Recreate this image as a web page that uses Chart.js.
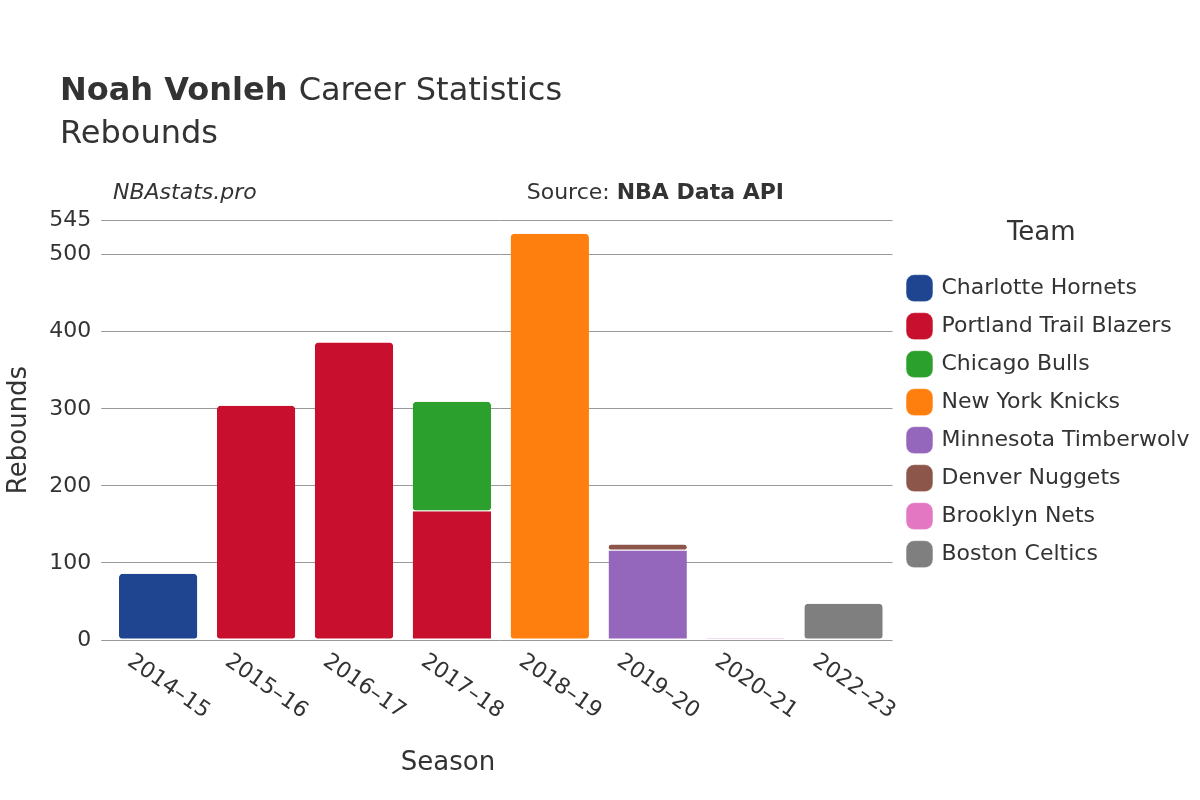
<!DOCTYPE html>
<html><head><meta charset="utf-8">
<script src="https://cdn.jsdelivr.net/npm/chart.js@4/dist/chart.umd.min.js"></script>
<style>body{margin:0;background:#fff}</style></head>
<body><canvas id="c" width="1200" height="800"></canvas>
<script>
const seasons=["2014–15","2015–16","2016–17","2017–18","2018–19","2019–20","2020–21","2022–23"];
const teams=["Charlotte Hornets","Portland Trail Blazers","Chicago Bulls","New York Knicks","Minnesota Timberwolves","Denver Nuggets","Brooklyn Nets","Boston Celtics"];
const colors=["#1f4590","#c8102e","#2ca02c","#ff7f0e","#9467bd","#8c564b","#e377c2","#7f7f7f"];
const hornets=[86,null,null,null,null,null,null,null];
const blazers=[null,304,386,167,null,null,null,null];
const bulls=[null,null,null,142,null,null,null,null];
const knicks=[null,null,null,null,527,null,null,null];
const wolves=[null,null,null,null,null,116,null,null];
const nuggets=[null,null,null,null,null,8,null,null];
const nets=[null,null,null,null,null,null,2,null];
const celtics=[null,null,null,null,null,null,null,47];
const series=[hornets,blazers,bulls,knicks,wolves,nuggets,nets,celtics];
const F="'DejaVu Sans', sans-serif";
const texts={id:'texts',afterDraw(ch){const x=ch.ctx;x.save();x.fillStyle='#333';x.textBaseline='alphabetic';x.textAlign='left';
x.font="bold 32px "+F;x.fillText("Noah Vonleh",60,100);const w=x.measureText("Noah Vonleh ").width;
x.font="32px "+F;x.fillText("Career Statistics",60+w,100);x.fillText("Rebounds",60,143);
x.font="italic 22px "+F;x.fillText("NBAstats.pro",113,199);
x.textAlign='right';x.font="bold 22px "+F;x.fillText("NBA Data API",784,199);const bw=x.measureText("NBA Data API").width;
x.font="22px "+F;x.fillText("Source: ",784-bw,199);
const xs=ch.scales.x;x.font="22px "+F;x.textAlign='left';
seasons.forEach((s,i)=>{const px=xs.getPixelForTick(i);x.save();x.translate(px-32,664);x.rotate(35*Math.PI/180);x.fillText(s,0,0);x.restore();});
x.font="26px "+F;x.textAlign='center';x.fillText("Season",448,770);
x.restore();}};
new Chart(document.getElementById('c'),{type:'bar',
data:{labels:seasons,datasets:series.map((d,i)=>({label:teams[i],data:d,backgroundColor:colors[i],borderColor:'#fff',borderWidth:{top:0,bottom:1,left:0,right:0},borderRadius:4,borderSkipped:false,categoryPercentage:1,barPercentage:0.8}))},
options:{responsive:false,animation:false,
layout:{padding:{top:220,left:0,right:10,bottom:0}},
plugins:{legend:{position:'right',align:'start',title:{display:true,text:'Team',color:'#333',font:{family:F,size:26},padding:{top:0,bottom:10}},
labels:{color:'#333',font:{family:F,size:22},boxWidth:22,boxHeight:22,padding:16,usePointStyle:true,pointStyle:'rectRounded'}},tooltip:{enabled:false}},
scales:{x:{stacked:true,grid:{display:false},border:{display:false},ticks:{display:false},afterFit(s){s.height=160;}},
y:{stacked:true,min:0,max:545,grid:{color:'#999'},border:{display:false},ticks:{stepSize:100,color:'#333',font:{family:F,size:22},padding:10},title:{display:true,text:'Rebounds',color:'#333',font:{family:F,size:26}}}}},
plugins:[texts]});
</script></body></html>
